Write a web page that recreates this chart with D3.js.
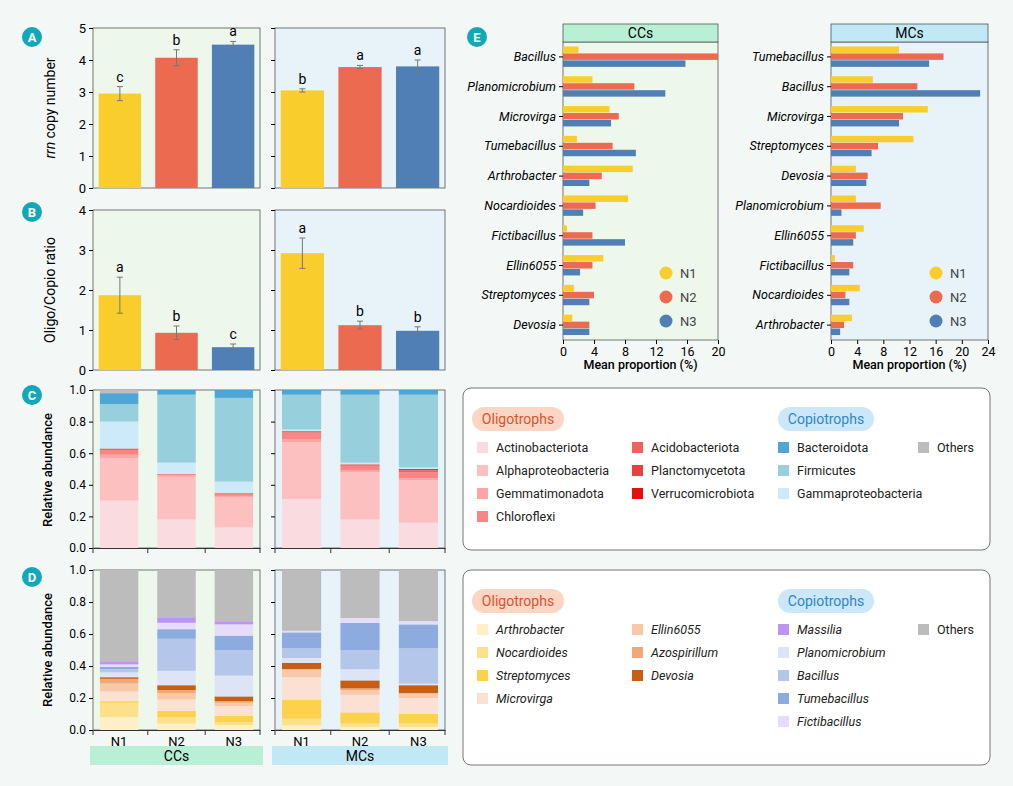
<!DOCTYPE html>
<html><head><meta charset="utf-8">
<script src="https://cdn.jsdelivr.net/npm/d3@7"></script>
<style>body{margin:0;background:#f3f7f5;font-family:Roboto,sans-serif}</style>
</head><body><svg width="1013" height="786"></svg>
<script>
const levels = ['N1','N2','N3'];
const groups = ['CCs','MCs'];
const colN = {N1:'#f8cd2c', N2:'#ec6a50', N3:'#4f7fb5'};
const bgCol = {CCs:'#eef7ec', MCs:'#e7f3f8'};
const hdCol = {CCs:'#b9efd5', MCs:'#c0e9f5'};

// panel A/B
const rrnMean = {CCs:[2.95,4.07,4.48], MCs:[3.05,3.78,3.8]};
const rrnErr  = {CCs:[0.22,0.25,0.1], MCs:[0.05,0.05,0.2]};
const rrnSig  = {CCs:['c','b','a'], MCs:['b','a','a']};
const ocMean = {CCs:[1.87,0.93,0.57], MCs:[2.92,1.12,0.98]};
const ocErr  = {CCs:[0.45,0.17,0.08], MCs:[0.38,0.1,0.1]};
const ocSig  = {CCs:['a','b','c'], MCs:['a','b','b']};

// panel C (phylum) bottom-up
const phyla = ['Actinobacteriota','Alphaproteobacteria','Gemmatimonadota','Chloroflexi','Acidobacteriota','Planctomycetota','Verrucomicrobiota','Gammaproteobacteria','Firmicutes','Bacteroidota','Others'];
const phylaCol = ['#f9dbe0','#fcc0c0','#fda5a5','#f98585','#f0605f','#ea4040','#e31010','#cdeafa','#97d0dc','#4ea6d6','#bcbcbc'];
const phylaVals = {
  'CCs-N1':[0.30,0.27,0.02,0.03,0.01,0,0,0.17,0.11,0.07,0.02],
  'CCs-N2':[0.18,0.27,0.01,0.01,0,0,0,0.07,0.43,0.03,0],
  'CCs-N3':[0.13,0.19,0.01,0.02,0,0,0,0.07,0.53,0.05,0],
  'MCs-N1':[0.31,0.36,0.02,0.04,0.01,0,0,0.01,0.22,0.03,0],
  'MCs-N2':[0.18,0.30,0.01,0.03,0.01,0,0,0.01,0.43,0.03,0],
  'MCs-N3':[0.16,0.27,0.01,0.04,0.01,0.005,0.005,0.01,0.46,0.03,0]
};
// panel D (genus) bottom-up
const genera = ['Arthrobacter','Nocardioides','Streptomyces','Microvirga','Ellin6055','Azospirillum','Devosia','Planomicrobium','Bacillus','Tumebacillus','Fictibacillus','Massilia','Others'];
const generaCol = ['#fdf0c8','#fde08a','#fcd24c','#fbe1d4','#f8c8a8','#f0a878','#c85e12','#dde4f6','#b4c6ea','#8eabe0','#e6dcfa','#bd94f2','#bcbcbc'];
const generaVals = {
  'CCs-N1':[0.08,0.09,0.01,0.06,0.05,0.03,0.01,0.03,0.02,0.015,0.015,0.02],
  'CCs-N2':[0.04,0.04,0.04,0.07,0.04,0.02,0.03,0.09,0.20,0.06,0.04,0.03],
  'CCs-N3':[0.03,0.02,0.04,0.06,0.02,0.01,0.03,0.13,0.16,0.09,0.07,0.02],
  'MCs-N1':[0.03,0.04,0.12,0.14,0.05,0,0.04,0.03,0.06,0.10,0.01,0],
  'MCs-N2':[0.02,0.02,0.07,0.11,0.03,0.01,0.05,0.07,0.12,0.17,0.03,0],
  'MCs-N3':[0.02,0.02,0.06,0.10,0.03,0,0.05,0.01,0.22,0.15,0.02,0]
};
// panel E
const eGenusCC = ['Bacillus','Planomicrobium','Microvirga','Tumebacillus','Arthrobacter','Nocardioides','Fictibacillus','Ellin6055','Streptomyces','Devosia'];
const eValsCC = [[2,20,15.8],[3.8,9.2,13.2],[6,7.2,6.2],[1.8,6.4,9.4],[9,5,3.4],[8.4,4.2,2.6],[0.5,3.8,8],[5.2,3.8,2.2],[1.4,4,3.4],[1.2,3.4,3.4]];
const eGenusMC = ['Tumebacillus','Bacillus','Microvirga','Streptomyces','Devosia','Planomicrobium','Ellin6055','Fictibacillus','Nocardioides','Arthrobacter'];
const eValsMC = [[10.4,17.2,15],[6.4,13.2,22.8],[14.8,11,10.4],[12.6,7.2,6.2],[3.8,5.6,5.4],[3.8,7.6,1.6],[5,3.8,3.4],[0.6,3.4,2.8],[4.4,2.2,2.8],[3.2,2.0,1.4]];

const svg = d3.select('svg');
const gx = {CCs:[93,260], MCs:[275,445]};

function panelBg(g, x0, x1, y0, y1){
  svg.append('rect').attr('x',x0).attr('y',y0).attr('width',x1-x0).attr('height',y1-y0)
    .attr('fill',bgCol[g]).attr('stroke','#555').attr('stroke-width',0.8);
}
function label(x,y,t){
  svg.append('circle').attr('cx',x).attr('cy',y).attr('r',10).attr('fill','#12a8b8');
  svg.append('text').attr('x',x).attr('y',y+5).attr('text-anchor','middle').attr('fill','#fff')
    .attr('font-size',13).attr('font-weight','bold').text(t);
}

function barPanel(y0,y1,maxY,means,errs,sigs,ylab,lettersTag){
  const y = d3.scaleLinear().domain([0,maxY]).range([y1,y0]);
  groups.forEach((g,gi)=>{
    panelBg(g,gx[g][0],gx[g][1],y0,y1);
    const x = d3.scaleBand().domain(levels).range(gx[g]).paddingInner(0.25).paddingOuter(0.1);
    levels.forEach((l,i)=>{
      const m=means[g][i], e=errs[g][i];
      svg.append('rect').attr('x',x(l)).attr('y',y(m)).attr('width',x.bandwidth()).attr('height',y(0)-y(m)).attr('fill',colN[l]);
      const cx=x(l)+x.bandwidth()/2;
      svg.append('path').attr('d',`M${cx},${y(m-e)}V${y(m+e)}M${cx-3},${y(m-e)}H${cx+3}M${cx-3},${y(m+e)}H${cx+3}`).attr('stroke','#777').attr('stroke-width',1);
      svg.append('text').attr('x',cx).attr('y',y(m+e)-5).attr('text-anchor','middle').attr('font-size',14).text(sigs[g][i]);
    });
    const ax = d3.axisLeft(y).ticks(maxY).tickSize(4);
    const a = svg.append('g').attr('transform',`translate(${gx[g][0]},0)`).call(ax);
    a.select('.domain').remove();
    a.selectAll('text').attr('font-size',13).attr('font-family','Roboto');
    if(gi==1) a.selectAll('text').remove();
  });
  return y;
}

// A
barPanel(28,188,5,rrnMean,rrnErr,rrnSig);
svg.append('text').attr('transform','translate(55,108) rotate(-90)').attr('text-anchor','middle').attr('font-size',14)
  .html('<tspan font-style="italic">rrn</tspan> copy number');
// B
barPanel(210,370,4,ocMean,ocErr,ocSig);
svg.append('text').attr('transform','translate(55,290) rotate(-90)').attr('text-anchor','middle').attr('font-size',14).text('Oligo/Copio ratio');

function stackPanel(y0,y1,vals,cols,showX){
  const y = d3.scaleLinear().domain([0,1]).range([y1,y0]);
  groups.forEach((g,gi)=>{
    panelBg(g,gx[g][0],gx[g][1],y0,y1);
    const x = d3.scaleBand().domain(levels).range(gx[g]).paddingInner(0.33).paddingOuter(0.12);
    levels.forEach(l=>{
      let v = vals[g+'-'+l].slice();
      const s = d3.sum(v); if(v.length<cols.length) v.push(Math.max(0,1-s));
      let acc=0;
      v.forEach((d,k)=>{
        if(d<=0) return;
        svg.append('rect').attr('x',x(l)).attr('y',y(Math.min(1,acc+d))).attr('width',x.bandwidth())
          .attr('height',y(acc)-y(Math.min(1,acc+d))).attr('fill',cols[k]);
        acc+=d;
      });
    });
    const a = svg.append('g').attr('transform',`translate(${gx[g][0]},0)`).call(d3.axisLeft(y).ticks(5).tickFormat(d3.format('.1f')).tickSize(4));
    a.select('.domain').remove(); a.selectAll('text').attr('font-size',12).attr('font-family','Roboto');
    if(gi==1) a.selectAll('text').remove();
    const bx = svg.append('g').attr('transform',`translate(0,${y1})`).call(d3.axisBottom(x).tickSize(0).tickValues(showX?levels:[]));
    bx.select('.domain').attr('stroke','#333');
    bx.selectAll('text').attr('font-size',13).attr('dy','1em').attr('font-family','Roboto');
    svg.append('path').attr('d',x.domain().slice(0).map((l,i)=>'').join('')+
      `M${gx[g][0]},${y1}v5`+levels.slice(1).map(l=>`M${x(l)-x.step()*x.paddingInner()/2},${y1}v5`).join('')+`M${gx[g][1]},${y1}v5`).attr('stroke','#333');
  });
}
stackPanel(390,548,phylaVals,phylaCol,false);
svg.append('text').attr('transform','translate(52,470) rotate(-90)').attr('text-anchor','middle').attr('font-size',13).attr('font-weight',500).text('Relative abundance');
stackPanel(570,730,generaVals,generaCol,true);
svg.append('text').attr('transform','translate(52,650) rotate(-90)').attr('text-anchor','middle').attr('font-size',13).attr('font-weight',500).text('Relative abundance');
groups.forEach(g=>{
  svg.append('rect').attr('x',gx[g][0]-3).attr('y',746).attr('width',gx[g][1]-gx[g][0]+6).attr('height',19).attr('fill',hdCol[g]);
  svg.append('text').attr('x',(gx[g][0]+gx[g][1])/2).attr('y',761).attr('text-anchor','middle').attr('font-size',14).text(g);
});
label(32,37,'A'); label(32,212,'B'); label(32,395,'C'); label(32,577,'D'); label(477,37,'E');

// E
function ePanel(g,x0,x1,maxX,tickStep,names,vals){
  const y0=42,y1=340;
  panelBg(g,x0,x1,y0,y1);
  svg.append('rect').attr('x',x0).attr('y',24).attr('width',x1-x0).attr('height',18).attr('fill',hdCol[g]).attr('stroke','#555').attr('stroke-width',0.8);
  svg.append('text').attr('x',(x0+x1)/2).attr('y',38).attr('text-anchor','middle').attr('font-size',14).text(g);
  const x = d3.scaleLinear().domain([0,maxX]).range([x0,x1]);
  const y = d3.scaleBand().domain(names).range([y0,y1]).paddingInner(0.3).paddingOuter(0.15);
  const yi = d3.scaleBand().domain(levels).range([0,y.bandwidth()]);
  names.forEach((n,i)=>{
    levels.forEach((l,k)=>{
      svg.append('rect').attr('x',x0).attr('y',y(n)+yi(l)).attr('width',x(vals[i][k])-x0).attr('height',yi.bandwidth()-0.5).attr('fill',colN[l]);
    });
  });
  const ay = svg.append('g').attr('transform',`translate(${x0},0)`).call(d3.axisLeft(y).tickSize(4));
  ay.select('.domain').remove(); ay.selectAll('text').attr('font-size',12.5).attr('font-style','italic').attr('font-family','Roboto');
  const axb = svg.append('g').attr('transform',`translate(0,${y1})`).call(d3.axisBottom(x).tickValues(d3.range(0,maxX+0.1,tickStep)).tickSize(4));
  axb.select('.domain').remove(); axb.selectAll('text').attr('font-size',12.5).attr('font-family','Roboto');
  svg.append('text').attr('x',(x0+x1)/2).attr('y',369).attr('text-anchor','middle').attr('font-size',12.5).attr('font-weight',500).text('Mean proportion (%)');
  levels.forEach((l,k)=>{
    svg.append('circle').attr('cx',x1-52).attr('cy',273+k*24).attr('r',6.5).attr('fill',colN[l]);
    svg.append('text').attr('x',x1-38).attr('y',278+k*24).attr('font-size',13).attr('fill','#444').text(l);
  });
}
ePanel('CCs',563,718,20,4,eGenusCC,eValsCC);
ePanel('MCs',831,988,24,4,eGenusMC,eValsMC);

// legends
function legendBox(y0,h,oligo,copio,others,cols,italic){
  svg.append('rect').attr('x',463).attr('y',y0).attr('width',527).attr('height',h).attr('rx',8).attr('fill','#fff').attr('stroke','#777');
  const pill=(x,t,c)=>{
    svg.append('rect').attr('x',x).attr('y',y0+19).attr('width',t=='Oligotrophs'?92:96).attr('height',24).attr('rx',12).attr('fill',c);
    svg.append('text').attr('x',x+(t=='Oligotrophs'?46:48)).attr('y',y0+36).attr('text-anchor','middle').attr('font-size',14)
      .attr('fill',t=='Oligotrophs'?'#d9532c':'#2f86c8').text(t);
  };
  pill(472,'Oligotrophs','#fbd6c4'); pill(778,'Copiotrophs','#cbe7f8');
  const item=(x,y,name,c)=>{
    svg.append('rect').attr('x',x).attr('y',y-9).attr('width',11).attr('height',11).attr('fill',c);
    svg.append('text').attr('x',x+19).attr('y',y+1).attr('font-size',12.5).attr('font-style',italic&&name!='Others'?'italic':'normal').attr('fill','#222').text(name);
  };
  oligo.forEach((col,ci)=>col.forEach((n,ri)=>item(ci==0?477:632,y0+63+ri*23,n,cols[n])));
  copio.forEach((n,ri)=>item(778,y0+63+ri*23,n,cols[n]));
  item(918,y0+63,'Others','#bcbcbc');
}
const pc={}; phyla.forEach((p,i)=>pc[p]=phylaCol[i]);
legendBox(388,162,[phyla.slice(0,4),phyla.slice(4,7)],['Bacteroidota','Firmicutes','Gammaproteobacteria'],true,pc,false);
const gc={}; genera.forEach((p,i)=>gc[p]=generaCol[i]);
legendBox(570,195,[['Arthrobacter','Nocardioides','Streptomyces','Microvirga'],['Ellin6055','Azospirillum','Devosia']],['Massilia','Planomicrobium','Bacillus','Tumebacillus','Fictibacillus'],true,gc,true);
</script></body></html>
